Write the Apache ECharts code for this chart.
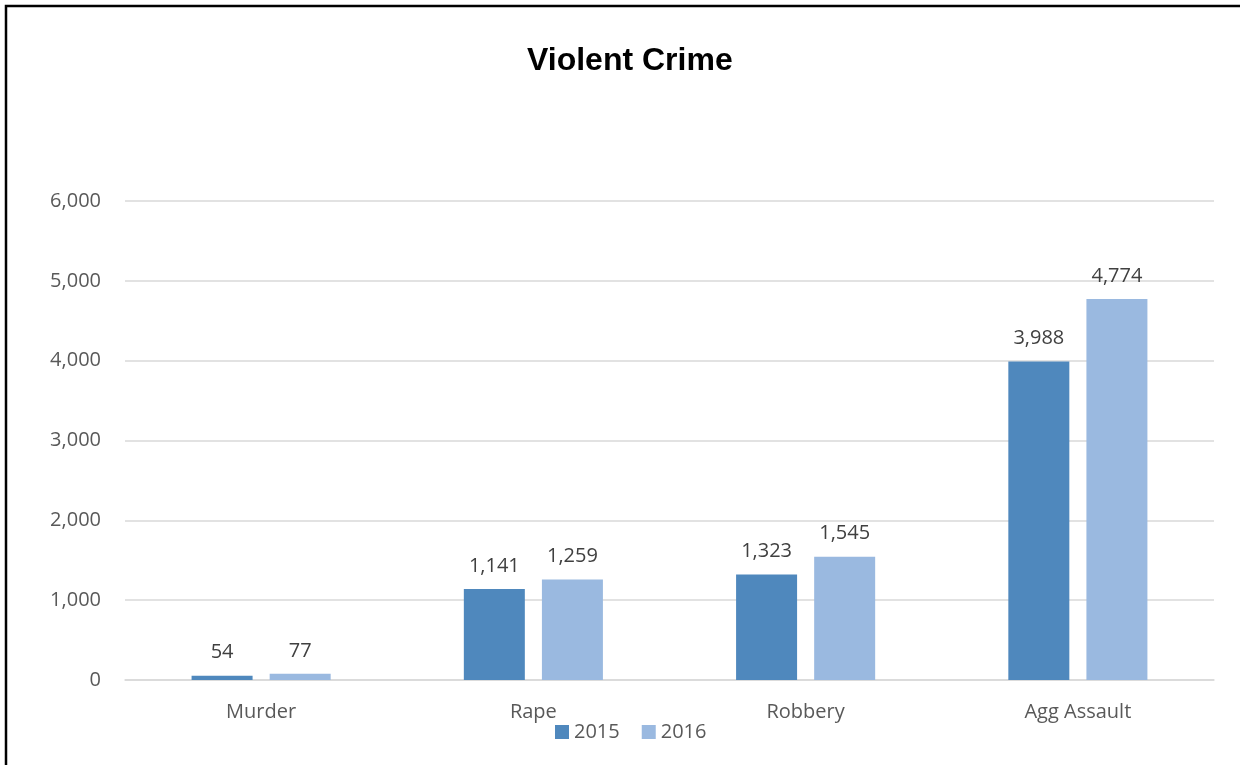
<!DOCTYPE html>
<html><head><meta charset="utf-8">
<script src="https://cdn.jsdelivr.net/npm/echarts@6/dist/echarts.min.js"></script>
<style>html,body{margin:0;padding:0;background:#fff}#c{width:1240px;height:765px}</style>
</head><body><div id="c"></div>
<script>
const categories = ['Murder', 'Rape', 'Robbery', 'Agg Assault'];
const values2015 = [54, 1141, 1323, 3988];
const values2016 = [77, 1259, 1545, 4774];
const yTicks = [0, 1000, 2000, 3000, 4000, 5000, 6000];

const font = 'Open Sans';
const chart = echarts.init(document.getElementById('c'), null, {renderer: 'canvas'});
const fmt = v => v.toLocaleString('en-US');
chart.setOption({
  animation: false,
  backgroundColor: '#fff',
  graphic: [{
    type: 'rect', shape: {x: 6, y: 6, width: 1300, height: 900},
    style: {fill: 'none', stroke: '#000', lineWidth: 2.5}, silent: true
  }],
  title: {
    text: 'Violent Crime', left: 522, top: 40,
    textStyle: {fontFamily: 'Liberation Sans', fontWeight: 'bold', fontSize: 32, color: '#000'}
  },
  legend: {
    data: ['2015', '2016'], bottom: 18, left: 550, itemWidth: 14, itemHeight: 14, itemGap: 22,
    icon: 'rect',
    textStyle: {fontFamily: font, fontSize: 20, color: '#595959'}
  },
  grid: {left: 125, right: 26, top: 201, bottom: 85},
  xAxis: {
    type: 'category', data: categories,
    axisLine: {lineStyle: {color: '#d9d9d9', width: 1.5}},
    axisTick: {show: false},
    axisLabel: {fontFamily: font, fontSize: 20, color: '#595959', margin: 22}
  },
  yAxis: {
    type: 'value', min: yTicks[0], max: yTicks[yTicks.length - 1], interval: 1000,
    axisLine: {show: false}, axisTick: {show: false},
    splitLine: {lineStyle: {color: '#d9d9d9', width: 1.5}},
    axisLabel: {fontFamily: font, fontSize: 20, color: '#595959', margin: 24, formatter: fmt}
  },
  series: [
    {name: '2015', type: 'bar', data: values2015, barWidth: 61, barGap: '28%',
     itemStyle: {color: '#4f88bd'},
     label: {show: true, position: 'top', distance: 13, fontFamily: font, fontSize: 20, color: '#404040', formatter: p => fmt(p.value)}},
    {name: '2016', type: 'bar', data: values2016, barWidth: 61,
     itemStyle: {color: '#9ab9e0'},
     label: {show: true, position: 'top', distance: 13, fontFamily: font, fontSize: 20, color: '#404040', formatter: p => fmt(p.value)}}
  ]
});
</script></body></html>
